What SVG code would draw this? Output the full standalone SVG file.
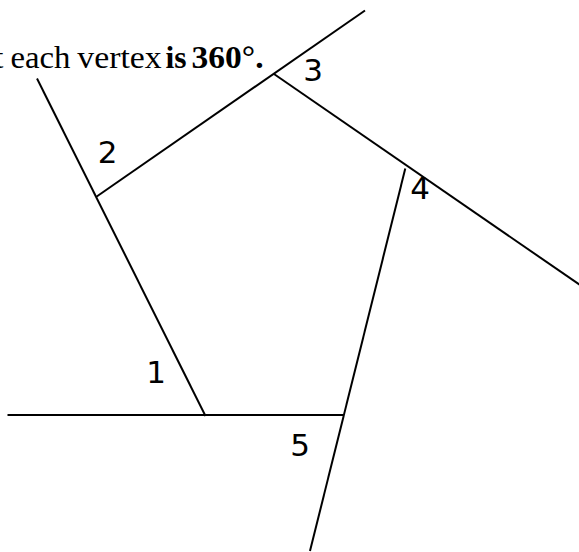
<svg xmlns="http://www.w3.org/2000/svg" width="579" height="552" viewBox="0 0 579 552">
  <style>
    .ln { stroke: #000; stroke-width: 2; fill: none; stroke-linecap: butt; }
    .num { font-family: "DejaVu Sans", Verdana, sans-serif; font-size: 31px; fill: #000; text-anchor: middle; }
    .cap { font-family: "Liberation Serif", "Times New Roman", serif; font-size: 32px; fill: #000; }
    .b { font-weight: bold; }
  </style>
  <rect width="579" height="552" fill="#fff"/>
  <text class="cap" y="67.7"><tspan x="-5.5">t</tspan> <tspan x="10.5" textLength="60" lengthAdjust="spacingAndGlyphs">each</tspan> <tspan x="77.3" textLength="84.4" lengthAdjust="spacingAndGlyphs">vertex</tspan> <tspan class="b" x="165.5" textLength="21" lengthAdjust="spacingAndGlyphs">is</tspan> <tspan class="b" x="191.5" textLength="72" lengthAdjust="spacingAndGlyphs">360°.</tspan></text>
  <g id="lines">
    <line class="ln" x1="7.5" y1="415" x2="343.5" y2="415"/>
    <line class="ln" x1="205.5" y1="416" x2="37" y2="78.5"/>
    <line class="ln" x1="96" y1="197" x2="365" y2="10.5"/>
    <line class="ln" x1="274" y1="74" x2="580" y2="285"/>
    <line class="ln" x1="405.3" y1="168.5" x2="310" y2="551"/>
  </g>
  <g id="labels">
    <text class="num" x="156" y="383">1</text>
    <text class="num" x="107.5" y="163.3">2</text>
    <text class="num" x="313" y="81">3</text>
    <text class="num" x="420" y="199.3">4</text>
    <text class="num" x="300" y="456">5</text>
  </g>
</svg>
